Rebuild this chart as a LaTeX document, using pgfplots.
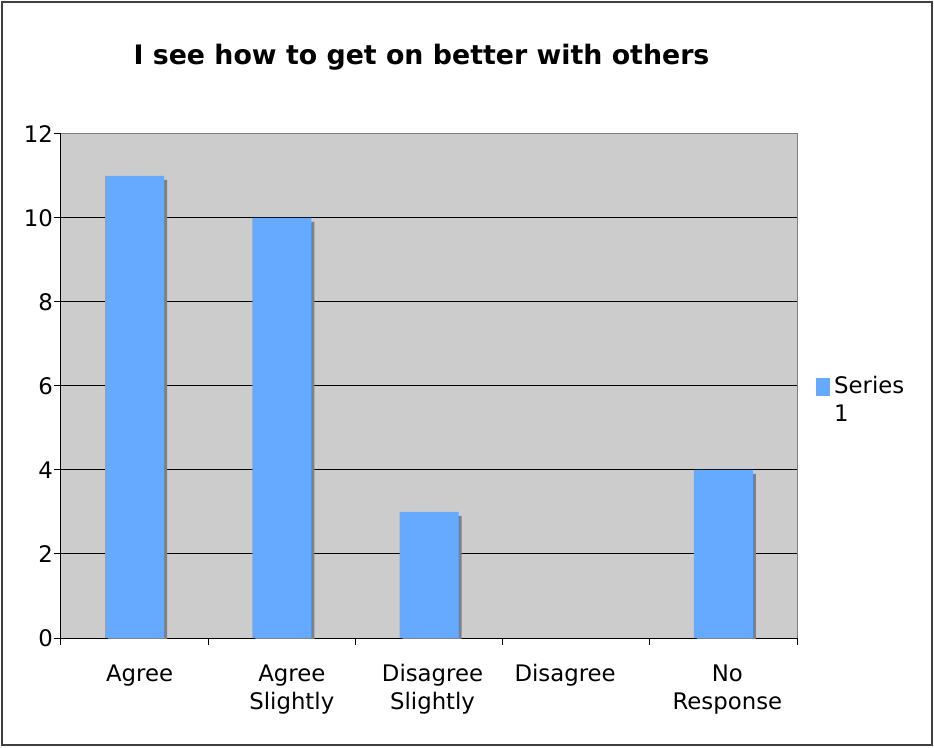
\documentclass[border=0pt]{standalone}
\usepackage{fontspec}
\setmainfont{DejaVu Sans}
\usepackage{pgfplots}
\pgfplotsset{compat=1.18}

\definecolor{barblue}{HTML}{66AAFF}
\definecolor{plotbg}{HTML}{CCCCCC}
\definecolor{shadowgray}{HTML}{808080}
\definecolor{framegray}{HTML}{404040}

\begin{document}
\begin{tikzpicture}[x=1pt,y=1pt]
  % page extent and outer frame
  \path (0,0) rectangle (934,747);
  \draw[framegray, line width=1.3pt] (2,2) rectangle (932,745);

  % title
  \node[anchor=base, font=\fontsize{26.8}{32}\selectfont\bfseries] at (421.5,682.5)
    {I see how to get on better with others};

  \begin{axis}[
    at={(61pt,109pt)}, anchor=south west,
    scale only axis, width=736pt, height=504pt,
    xmin=-0.5, xmax=4.5, ymin=0, ymax=12,
    axis background/.style={fill=plotbg, draw=shadowgray, line width=1pt},
    axis lines*=left,
    axis line style={black, line width=1pt},
    every axis plot/.append style={ybar, bar width=59pt},
    % label anchors (major ticks are not drawn)
    xtick={0.034,1.068,2.024,2.925,4.027},
    xticklabels={Agree, Agree\\Slightly, Disagree\\Slightly, Disagree, No\\Response},
    % visible ticks between categories
    minor xtick={-0.5,0.5,1.5,2.5,3.5,4.5},
    major x tick style={draw=none},
    minor tick length=7pt,
    major tick length=7pt,
    tick align=outside,
    tick style={black, line width=1pt},
    ytick={0,2,...,12},
    extra y ticks={2,4,6,8,10},
    extra y tick labels={},
    extra y tick style={grid=major, major tick length=0pt},
    major grid style={black, line width=1pt},
    /pgf/number format/assume math mode=true,
    ticklabel style={font=\fontsize{22.8}{28}\selectfont},
    xticklabel style={align=center, yshift=-16pt},
    yticklabel style={inner sep=1pt},
    legend style={at={(rel axis cs:1,0.52)}, anchor=north west, xshift=19pt,
      draw=none, fill=none, inner sep=0pt, column sep=4pt,
      nodes={align=left, inner sep=0pt, font=\fontsize{22.8}{28}\selectfont}},
    legend cell align=left,
  ]
    % drop shadow behind each bar (Disagree has no responses, so no bar)
    \addplot[fill=shadowgray, draw=none, bar shift=3pt, yshift=-4pt, forget plot]
      coordinates {(0,11) (1,10) (2,3) (4,4)};
    \addplot[fill=barblue, draw=none, bar shift=0pt,
      legend image code/.code={\fill[barblue] (0pt,4pt) rectangle (14pt,22pt);}]
      coordinates {(0,11) (1,10) (2,3) (4,4)};
    \addlegendentry{Series\\1}
  \end{axis}
\end{tikzpicture}
\end{document}
